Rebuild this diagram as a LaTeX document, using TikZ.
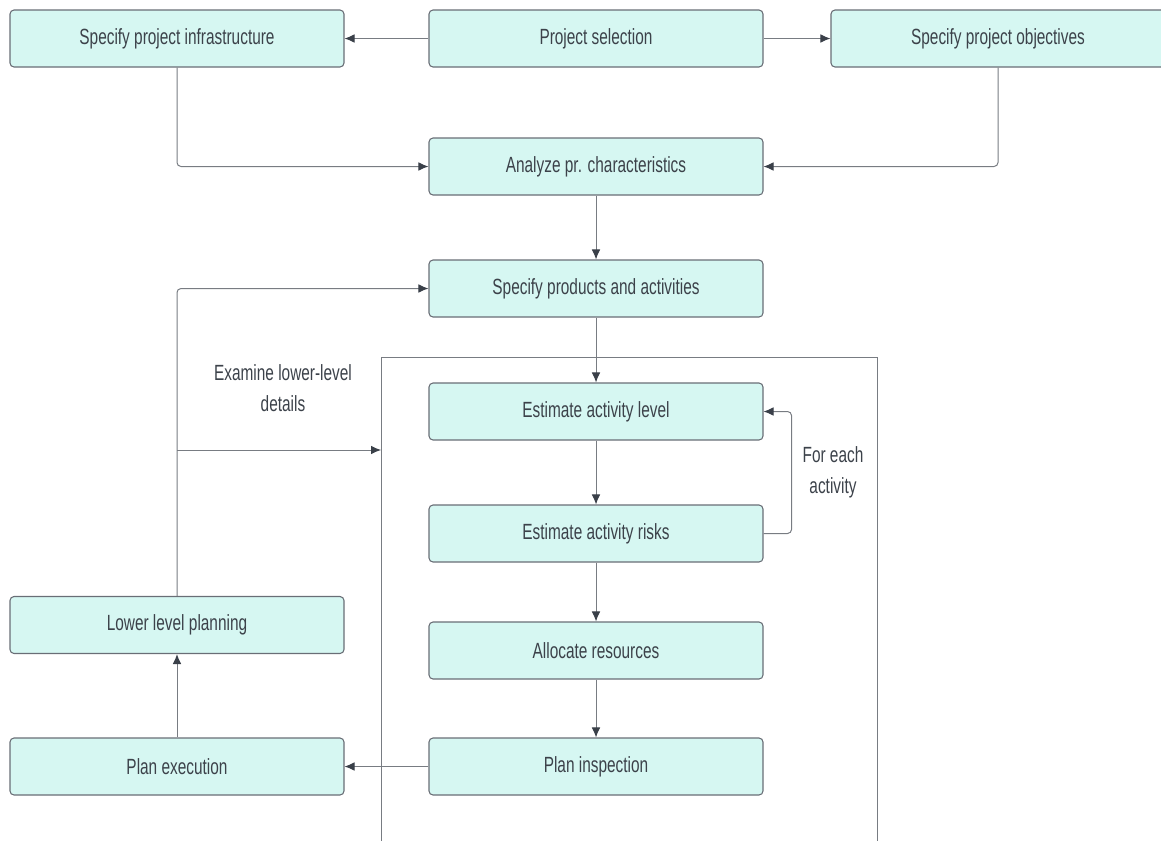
\documentclass[tikz,border=0pt]{standalone}
\usepackage{fontspec}
\setmainfont{Liberation Sans}[FakeStretch=0.7]
\usetikzlibrary{arrows.meta}
\definecolor{boxfill}{RGB}{214,247,242}
\definecolor{boxline}{RGB}{105,110,118}
\definecolor{inktext}{RGB}{60,66,74}
\definecolor{wire}{RGB}{120,124,130}
\definecolor{tipcol}{RGB}{58,64,73}

\begin{document}
\begin{tikzpicture}[x=0.75pt, y=-0.75pt,
    stepbox/.style={draw=boxline, fill=boxfill, rounded corners=3pt, line width=0.8pt,
      minimum width=250.5pt, minimum height=42.75pt, inner sep=0pt,
      text=inktext, font=\fontsize{16.5}{23}\selectfont},
    note/.style={text=inktext, align=center, font=\fontsize{16.5}{23}\selectfont},
    link/.style={draw=wire, line width=0.75pt, rounded corners=3pt,
      -{Latex[length=7.5pt, width=6.5pt, color=tipcol]}}]
    \useasboundingbox (0,0) rectangle (1161,840);
    % top row
    \node[stepbox] (infra) at (177,38.5) {Specify project infrastructure};
    \node[stepbox] (select) at (596,38.5) {Project selection};
    \node[stepbox] (object) at (998,38.5) {Specify project objectives};
    % main column
    \node[stepbox] (analyze) at (596,166.5) {Analyze pr. characteristics};
    \node[stepbox] (products) at (596,288.5) {Specify products and activities};
    \node[stepbox] (level) at (596,411.5) {Estimate activity level};
    \node[stepbox] (risks) at (596,533.5) {Estimate activity risks};
    \node[stepbox] (alloc) at (596,650.5) {Allocate resources};
    \node[stepbox] (inspect) at (596,766.5) {Plan inspection};
    % left column
    \node[stepbox] (lower) at (177,625) {Lower level planning};
    \node[stepbox] (execute) at (177,766.5) {Plan execution};
    % frame round the activity steps
    \coordinate (frameL) at (381,450);
    \draw[draw=wire, line width=0.75pt] (381,845) -- (381,357) -- (877,357) -- (877,845);
    \coordinate (branch) at (177,450);
    % labels
    \node[note] (examine) at (283,388) {Examine lower-level\\details};
    \node[note] (foreach) at (833,472) {For each\\activity};
    % connectors
    \draw[link] (select) -- (infra);
    \draw[link] (select) -- (object);
    \draw[link] (infra.south) |- (analyze.west);
    \draw[link] (object.south) |- (analyze.east);
    \draw[link] (analyze) -- (products);
    \draw[link] (products) -- (level);
    \draw[link] (level) -- (risks);
    \draw[link] (risks.east) -- ++(28,0) |- (level.east);
    \draw[link] (risks) -- (alloc);
    \draw[link] (alloc) -- (inspect);
    \draw[link] (inspect) -- (execute);
    \draw[link] (execute) -- (lower);
    \draw[link] (lower.north) |- (products.west);
    \draw[link] (branch) -- (frameL);
\end{tikzpicture}
\end{document}
